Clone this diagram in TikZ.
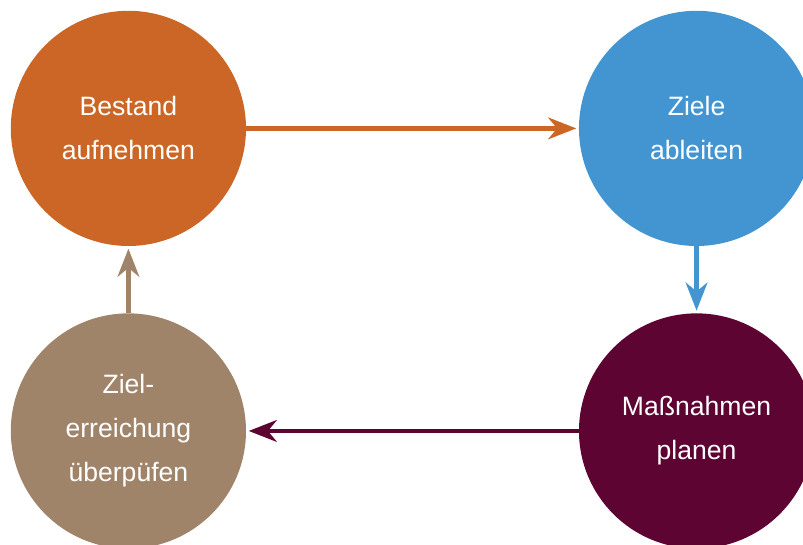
\documentclass[tikz,border=0pt]{standalone}
\usepackage{fontspec}
\setmainfont{Liberation Sans}
\usetikzlibrary{arrows.meta,positioning}
\definecolor{cycorange}{RGB}{204,102,38}
\definecolor{cycblue}  {RGB}{67,149,209}
\definecolor{cycpurple}{RGB}{94,4,50}
\definecolor{cyctan}   {RGB}{160,132,106}

\begin{document}
\begin{tikzpicture}[
  every node/.style={font=\fontsize{18.9}{31.3}\selectfont},
  stage/.style={circle,minimum size=5.88cm,inner sep=0pt,text=white,align=center},
  arr/.style={-{Stealth[length=0.7cm,width=0.54cm,inset=0.22cm]},line width=3.4pt,shorten >=0.06cm},
]

%% Canvas
\useasboundingbox (0,0) rectangle (20.075,13.6);

%% Stages of the cycle
\node[stage,fill=cycorange] (bestand) at (3.21,10.39) {Bestand\\aufnehmen};
\node[stage,fill=cycblue,right=8.31cm of bestand] (ziele) {Ziele\\ableiten};
\node[stage,fill=cycpurple,below=1.67cm of ziele] (massnahmen) {Maßnahmen\\planen};
\node[stage,fill=cyctan,below=1.67cm of bestand] (pruefen) {Ziel-\\erreichung\\überpüfen};

%% Connectors
\draw[arr,cycorange] (bestand) -- (ziele);
\draw[arr,cycblue] (ziele) -- (massnahmen);
\draw[arr,cycpurple] (massnahmen) -- (pruefen);
\draw[arr,cyctan] (pruefen) -- (bestand);

\end{tikzpicture}
\end{document}
